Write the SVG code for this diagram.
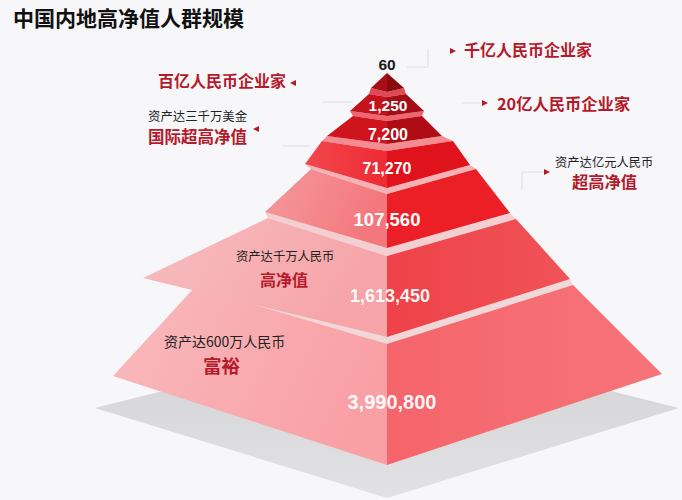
<svg xmlns="http://www.w3.org/2000/svg" width="682" height="500" viewBox="0 0 682 500">
  <defs>
    <linearGradient id="gL6" x1="0" y1="0" x2="1" y2="0.3"><stop offset="0" stop-color="#F8BABD"/><stop offset="1" stop-color="#F9A0A5"/></linearGradient>
    <linearGradient id="gR6" x1="0" y1="0" x2="1" y2="0"><stop offset="0" stop-color="#F5656B"/><stop offset="1" stop-color="#F67479"/></linearGradient>
    <linearGradient id="gL5" x1="0" y1="0" x2="1" y2="0.3"><stop offset="0" stop-color="#F7BDC0"/><stop offset="1" stop-color="#F6A4A8"/></linearGradient>
    <linearGradient id="gR5" x1="0" y1="0" x2="1" y2="0"><stop offset="0" stop-color="#EE4248"/><stop offset="1" stop-color="#F05358"/></linearGradient>
    <linearGradient id="gL4" x1="0" y1="0" x2="1" y2="0.3"><stop offset="0" stop-color="#F59A9E"/><stop offset="1" stop-color="#F3777C"/></linearGradient>
    <linearGradient id="gL3" x1="0" y1="0" x2="1" y2="0"><stop offset="0" stop-color="#F2474E"/><stop offset="1" stop-color="#EE2A32"/></linearGradient>
    <linearGradient id="gShadow" x1="0" y1="0" x2="0" y2="1"><stop offset="0" stop-color="#D2D2D5"/><stop offset="1" stop-color="#E2E2E5"/></linearGradient>
  </defs>
  <style>
    .title{font-family:"Noto Sans CJK SC","Liberation Sans",sans-serif;font-weight:700;font-size:21px;fill:#111}
    .num{font-family:"Liberation Sans",Arial,sans-serif;font-weight:700;fill:#FFFFFF;text-anchor:middle}
    .numdark{font-family:"Liberation Sans",Arial,sans-serif;font-weight:700;fill:#1A1A1A;text-anchor:middle}
    .lbl{font-family:"Noto Sans CJK SC","Liberation Sans",sans-serif;font-weight:700;fill:#B51A2B}
    .sub{font-family:"Noto Sans CJK SC","Liberation Sans",sans-serif;font-weight:400;fill:#222}
    .conn{fill:none;stroke:#DEDEE2;stroke-width:1}
    .tick{fill:#B51A2B}
  </style>
  <rect x="0" y="0" width="682" height="500" fill="#F7F7F9"/>
  <g id="title"><text class="title" x="13" y="26">中国内地高净值人群规模</text></g>

  <g id="shadow"><polygon points="95,408 387,335 679,408 387,498" fill="url(#gShadow)"/></g>

  <g id="top-faces">
    <polygon points="369,94 387,97 406,94 404,88 387,92 371,88" fill="#E04A55"/>
    <polygon points="353,116 387,121 422,116 424,111 387,116 350,111" fill="#EE6670"/>
    <polygon points="322,141 387,151 453,141 442,136 387,144 327,136" fill="#F48C92"/>
    <polygon points="311,169 387,194 476,169 470,165 387,188 305,164" fill="#F4B2B5"/>
    <polygon points="268,218 387,256 516,219 510,213 387,248 265,212" fill="#F2CFD1"/>
    <polygon points="195,287 387,344 573,285 570,279 387,337 143,278" fill="#F0D7D8"/>
  </g>

  <g id="layer-60">
    <polygon points="387,73 371,88 387,92" fill="#A80E18"/>
    <polygon points="387,73 387,92 404,88" fill="#8A0911"/>
  </g>
  <g id="layer-1250">
    <polygon points="369,94 387,97 387,116 350,111" fill="#C4121D"/>
    <polygon points="387,97 406,94 424,111 387,116" fill="#A30D17"/>
    <text class="num" x="388" y="111" font-size="15.5">1,250</text>
  </g>
  <g id="layer-7200">
    <polygon points="353,116 387,121 387,144 327,136" fill="#D0141E"/>
    <polygon points="387,121 422,116 442,136 387,144" fill="#B00C16"/>
    <text class="num" x="388" y="140" font-size="16">7,200</text>
  </g>
  <g id="layer-71270">
    <polygon points="322,141 387,151 387,188 305,164" fill="url(#gL3)"/>
    <polygon points="387,151 453,141 470,165 387,188" fill="#E0121B"/>
    <text class="num" x="387" y="174" font-size="16">71,270</text>
  </g>
  <g id="layer-107560">
    <polygon points="311,169 387,194 387,248 265,212" fill="url(#gL4)"/>
    <polygon points="387,194 476,169 510,213 387,248" fill="#EC1F27"/>
    <text class="num" x="387" y="226" font-size="18.5">107,560</text>
  </g>
  <g id="layer-1613450">
    <polygon points="268,218 387,256 387,337 143,278" fill="url(#gL5)"/>
    <polygon points="387,256 516,219 570,279 387,337" fill="url(#gR5)"/>
    <text class="num" x="390" y="302" font-size="18" fill-opacity="0.95">1,613,450</text>
  </g>
  <g id="layer-3990800">
    <polygon points="195,287 387,344 387,465 113,376" fill="url(#gL6)"/>
    <polygon points="387,344 573,285 662,374 387,465" fill="url(#gR6)"/>
    <text class="num" x="392" y="409" font-size="20" fill-opacity="0.95">3,990,800</text>
  </g>

  <g id="connectors">
    <polyline class="conn" points="407,67 428,67 428,49"/>
    <line class="conn" x1="323" y1="102" x2="353" y2="102"/>
    <line class="conn" x1="462" y1="103" x2="481" y2="103"/>
    <line class="conn" x1="283" y1="146" x2="310" y2="146"/>
    <polyline class="conn" points="522,190 522,172 543,172"/>
    <polygon class="tick" points="450,48 456,51 450,54"/>
    <polygon class="tick" points="296,80 290,83 296,86"/>
    <polygon class="tick" points="482,100 488,103 482,106"/>
    <polygon class="tick" points="259,126 253,129 259,132"/>
    <polygon class="tick" points="544,169 550,172 544,175"/>
  </g>

  <g id="label-60"><text class="numdark" x="387" y="70" font-size="15.5">60</text></g>
  <g id="label-qianyi"><text class="lbl" x="464" y="56" font-size="16">千亿人民币企业家</text></g>
  <g id="label-baiyi"><text class="lbl" x="158" y="87" font-size="16">百亿人民币企业家</text></g>
  <g id="label-20yi"><text class="lbl" x="497" y="110" font-size="16.3">20亿人民币企业家</text></g>
  <g id="label-intl">
    <text class="sub" x="148" y="121" font-size="12.4">资产达三千万美金</text>
    <text class="lbl" x="148" y="143" font-size="16.5">国际超高净值</text>
  </g>
  <g id="label-uhnw">
    <text class="sub" x="555" y="167" font-size="12.3">资产达亿元人民币</text>
    <text class="lbl" x="572" y="188" font-size="16.3">超高净值</text>
  </g>
  <g id="label-hnw">
    <text class="sub" x="236" y="261" font-size="12.3">资产达千万人民币</text>
    <text class="lbl" x="260" y="286" font-size="16">高净值</text>
  </g>
  <g id="label-rich">
    <text class="sub" x="164" y="347" font-size="14">资产达600万人民币</text>
    <text class="lbl" x="203" y="373" font-size="18.5">富裕</text>
  </g>
</svg>
